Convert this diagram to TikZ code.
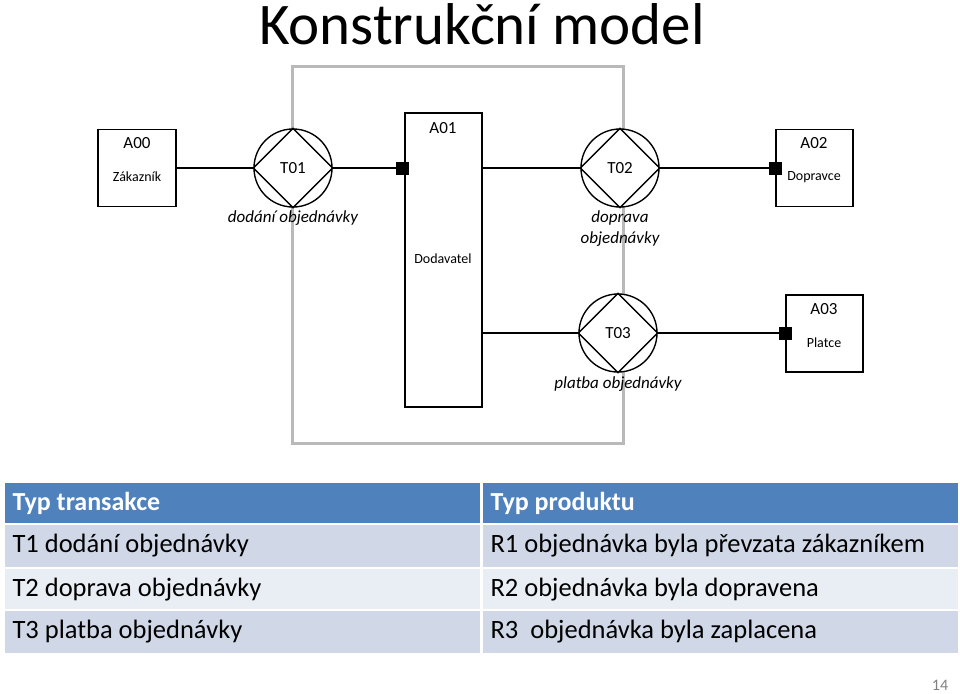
\documentclass[tikz,border=0pt]{standalone}
\usepackage{fontspec}
\setmainfont{Carlito}
\usetikzlibrary{positioning}
\definecolor{hdrblue}{HTML}{4F81BD}
\definecolor{rowdark}{HTML}{D0D8E8}
\definecolor{rowlight}{HTML}{E9EDF4}
\tikzset{
  actor/.style={draw, line width=1.4pt, fill=white, inner sep=0pt},
  trans/.style={draw, line width=1.4pt, circle, fill=white, minimum size=78pt, inner sep=0pt, font=\fontsize{17}{19}\selectfont},
  link/.style={line width=1.4pt},
  bond/.style={fill=black, minimum size=13pt, inner sep=0pt},
  tlabel/.style={font=\fontsize{17}{21}\selectfont\itshape, align=center},
  small/.style={font=\fontsize{14}{16}\selectfont},
  big/.style={font=\fontsize{17}{19}\selectfont},
  cell/.style={anchor=west, font=\fontsize{26.5}{30}\selectfont}
}
\begin{document}
\begin{tikzpicture}[x=1pt, y=-1pt]
        \useasboundingbox (0,0) rectangle (960,693);
        % Title
        \node[font=\fontsize{59}{64}\selectfont] (title) at (482,24) {Konstrukční model};

        % Grey boundary
        \draw[line width=3pt, gray!55] (292,66) rectangle (623,443);

        % Actors
        \node[actor, minimum width=78pt, minimum height=77pt] (a00) at (137,168) {};
        \node[actor, minimum width=77pt, minimum height=294pt] (a01) at (443.5,260) {};
        \node[actor, minimum width=77pt, minimum height=77pt] (a02) at (814.5,168) {};
        \node[actor, minimum width=77pt, minimum height=77pt] (a03) at (824.5,333.5) {};
        \node[big] at (137,143) {A00};
        \node[small] at (137,177) {Zákazník};
        \node[big] at (443,128) {A01};
        \node[small] at (443,259) {Dodavatel};
        \node[big] at (814,143) {A02};
        \node[small] at (814,177) {Dopravce};
        \node[big] at (824,309) {A03};
        \node[small] at (824,343) {Platce};

        % Transactions
        \node[trans] (t01) at (293,168) {T01};
        \node[trans] (t02) at (620,168) {T02};
        \node[trans] (t03) at (618,333) {T03};
        \foreach \t in {t01,t02,t03}
            \draw[line width=1.4pt] (\t.north) -- (\t.east) -- (\t.south) -- (\t.west) -- cycle;
        \node[tlabel] at (293,218) {dodání objednávky};
        \node[tlabel] at (620,229) {doprava\\objednávky};
        \node[tlabel] at (618,384) {platba objednávky};

        % Links
        \coordinate (a01l) at (a01.west |- t01);
        \coordinate (a01r1) at (a01.east |- t02);
        \coordinate (a01r3) at (a01.east |- t03);
        \draw[link] (a00.east |- t01) -- (t01.west);
        \draw[link] (t01.east) -- (a01l);
        \draw[link] (a01r1) -- (t02.west);
        \draw[link] (t02.east) -- (a02.west |- t02);
        \draw[link] (a01r3) -- (t03.west);
        \draw[link] (t03.east) -- (a03.west |- t03);
        \node[bond] at (402,168) {};
        \node[bond] at (a02.west |- t02) {};
        \node[bond] at (a03.west |- t03) {};

        % Table
        \fill[hdrblue] (5,483) rectangle (480,523);
        \fill[hdrblue] (483,483) rectangle (958,523);
        \fill[rowdark] (5,525) rectangle (480,567);
        \fill[rowdark] (483,525) rectangle (958,567);
        \fill[rowlight] (5,569) rectangle (480,609);
        \fill[rowlight] (483,569) rectangle (958,609);
        \fill[rowdark] (5,611) rectangle (480,653);
        \fill[rowdark] (483,611) rectangle (958,653);
        \node[cell, white, font=\fontsize{26}{30}\selectfont\bfseries] at (9,503) {Typ transakce};
        \node[cell, white, font=\fontsize{26}{30}\selectfont\bfseries] at (487,503) {Typ produktu};
        \node[cell] at (9,546) {T1 dodání objednávky};
        \node[cell] at (9,590) {T2 doprava objednávky};
        \node[cell] at (9,632) {T3 platba objednávky};
        \node[cell] at (487,546) {R1 objednávka byla převzata zákazníkem};
        \node[cell] at (487,590) {R2 objednávka byla dopravena};
        \node[cell] at (487,632) {R3~ objednávka byla zaplacena};

        % Page number
        \node[gray, font=\fontsize{16}{18}\selectfont] at (940,685) {14};
    \end{tikzpicture}
\end{document}
